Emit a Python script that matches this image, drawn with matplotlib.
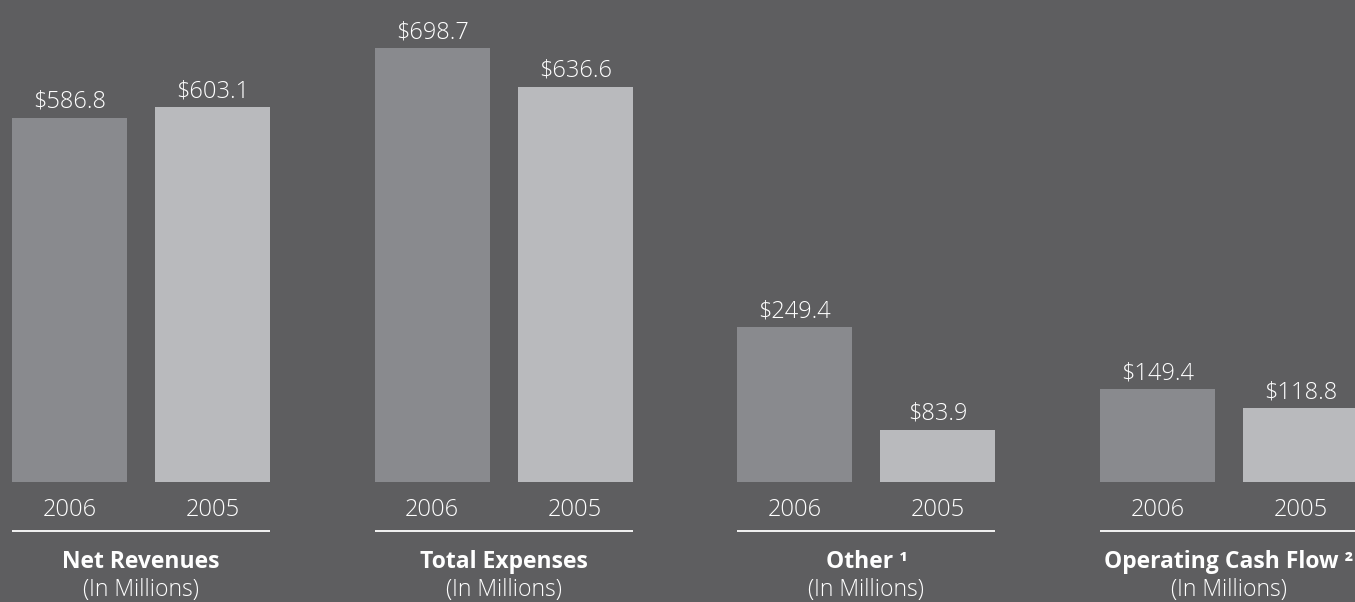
import matplotlib
matplotlib.use("Agg")
import matplotlib.pyplot as plt

# ---- data ----
groups = ["Net Revenues", "Total Expenses", "Other \u00b9", "Operating Cash Flow \u00b2"]
subtitle = "(In Millions)"
years = ["2006", "2005"]
values_2006 = [586.8, 698.7, 249.4, 149.4]
values_2005 = [603.1, 636.6, 83.9, 118.8]

# ---- style ----
bg = "#5e5e60"
col_2006 = "#898a8e"
col_2005 = "#b9babd"
txt = "#ffffff"
plt.rcParams['font.family'] = ['Open Sans', 'DejaVu Sans']

W, H = 1355, 602
fig = plt.figure(figsize=(W / 100, H / 100), dpi=100, facecolor=bg)
ax = fig.add_axes([0, 0, 1, 1], facecolor=bg)

base_px = 482          # pixel row of the bars' baseline (from top)
scale = 0.621          # pixels per million
ax.set_xlim(0, W)
ax.set_ylim(-(H - base_px) / scale, base_px / scale)
ax.axis('off')

def py(pix):  # pixel row from top -> data y
    return (base_px - pix) / scale

group_start = 12
group_pitch = 362.7
bar_w = 115
bar_pitch = 143

for gi, g in enumerate(groups):
    x0 = group_start + gi * group_pitch
    xs = [x0 + bar_w / 2, x0 + bar_pitch + bar_w / 2]
    vals = [values_2006[gi], values_2005[gi]]
    cols = [col_2006, col_2005]
    for x, v, c, yr in zip(xs, vals, cols, years):
        ax.bar(x, v, width=bar_w, color=c, linewidth=0)
        ax.annotate(f"${v:.1f}", (x, v), xytext=(0, 11.5), textcoords='offset points',
                    ha='center', va='center', color=txt, fontsize=17, fontweight='light')
        ax.text(x, py(510), yr, ha='center', va='center', color=txt, fontsize=17,
                fontweight='light')
    ax.plot([x0, x0 + bar_pitch + bar_w], [py(530.5)] * 2, color=txt, lw=1.3,
            solid_capstyle='butt')
    xc = x0 + (bar_pitch + bar_w) / 2
    ax.text(xc, py(562), g, ha='center', va='center', color=txt, fontsize=16.5,
            fontweight='bold')
    ax.text(xc, py(590), subtitle, ha='center', va='center', color=txt, fontsize=16.5,
            fontweight='light')

fig.savefig("out.png", dpi=100, facecolor=bg)
